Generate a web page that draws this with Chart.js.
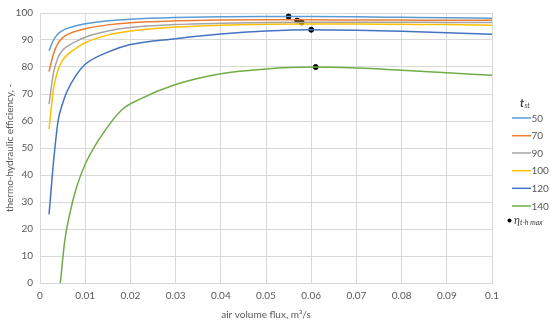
<!DOCTYPE html>
<html>
<head>
<meta charset="utf-8">
<script src="https://cdn.jsdelivr.net/npm/chart.js@4/dist/chart.umd.min.js"></script>
<style>
  html, body { margin: 0; padding: 0; background: #fff; }
  #wrap { width: 550px; height: 321px; }
</style>
</head>
<body>
<div id="wrap"><canvas id="chart" width="550" height="321"></canvas></div>
<script>
// air volume flux, m3/s
var flux = [0.002, 0.003, 0.004, 0.005, 0.006, 0.008, 0.01, 0.015, 0.02, 0.03, 0.04, 0.05, 0.06, 0.07, 0.08, 0.09, 0.1];
var eff50  = [86, 90, 92.3, 93.5, 94.3, 95.3, 96, 97.1, 97.7, 98.3, 98.6, 98.7, 98.7, 98.6, 98.4, 98.2, 98.1];
var eff70  = [78.3, 85, 88.8, 90.8, 92, 93.3, 94.2, 95.6, 96.4, 97.1, 97.4, 97.5, 97.5, 97.4, 97.4, 97.3, 97.3];
var eff90  = [66.3, 78, 83.5, 86.2, 87.6, 89.5, 91, 93.3, 94.6, 95.7, 96.2, 96.5, 96.6, 96.6, 96.6, 96.5, 96.5];
var eff100 = [57, 72, 79, 82.5, 84.5, 87, 89, 91.8, 93.3, 94.8, 95.5, 95.8, 95.9, 95.9, 95.8, 95.7, 95.5];
var eff120 = [25.4, 45, 60, 66.5, 71, 77, 81, 85.5, 88.3, 90.5, 92.2, 93.3, 93.8, 93.6, 93.2, 92.7, 92.1];
// t_st = 140 starts later
var flux140 = [0.0045, 0.0055, 0.0065, 0.008, 0.01, 0.013, 0.018, 0.022, 0.03, 0.04, 0.05, 0.06, 0.07, 0.08, 0.09, 0.1];
var eff140  = [0, 16, 25, 35, 44, 53, 64, 68, 73.5, 77.5, 79.3, 80, 79.6, 78.8, 77.9, 76.9];
// maxima
var maxFlux = [0.055, 0.0569, 0.0579, 0.06, 0.061];
var maxEff  = [98.7, 97.2, 96.5, 93.8, 80];

var tempLabels = ['50', '70', '90', '100', '120', '140'];
var colors = ['#5B9BD5', '#ED7D31', '#A5A5A5', '#FFC000', '#4472C4', '#70AD47'];
var FONT = 'Lato';

function pts(xs, ys) {
    return xs.map(function(x, i) { return {x: x, y: ys[i]}; });
}

var series = [pts(flux, eff50), pts(flux, eff70), pts(flux, eff90), pts(flux, eff100), pts(flux, eff120), pts(flux140, eff140)];

var datasets = series.map(function(d, i) {
    return {
        label: tempLabels[i],
        data: d,
        borderColor: colors[i],
        backgroundColor: colors[i],
        borderWidth: 1.5,
        pointRadius: 0,
        cubicInterpolationMode: 'monotone',
        fill: false
    };
});
datasets.push({
    label: 'max',
    data: pts(maxFlux, maxEff),
    showLine: false,
    pointRadius: 2.5,
    pointBackgroundColor: '#000',
    pointBorderColor: '#000',
    borderColor: '#000',
    backgroundColor: '#000'
});

// legend on the right, drawn by hand for the sub-scripts
var sideLegend = {
    id: 'sideLegend',
    afterDraw: function(chart) {
        var ctx = chart.ctx;
        ctx.save();
        ctx.fillStyle = '#404040';
        ctx.textBaseline = 'middle';
        ctx.font = 'italic bold 11px ' + FONT;
        ctx.fillText('t', 520, 103);
        ctx.font = 'italic 7px ' + FONT;
        ctx.fillText('st', 524.5, 106);

        var rows = [118, 135.7, 153, 170.7, 188.3, 206];
        ctx.fillStyle = '#595959';
        ctx.font = '10px ' + FONT;
        for (var i = 0; i < tempLabels.length; i++) {
            ctx.strokeStyle = colors[i];
            ctx.lineWidth = 1.5;
            ctx.beginPath();
            ctx.moveTo(512, rows[i]);
            ctx.lineTo(531, rows[i]);
            ctx.stroke();
            ctx.fillText(tempLabels[i], 531.5, rows[i] + 0.5);
        }
        ctx.fillStyle = '#000';
        ctx.beginPath();
        ctx.arc(509.5, 220.5, 2, 0, Math.PI * 2);
        ctx.fill();
        ctx.fillStyle = '#404040';
        ctx.font = 'italic 11px ' + FONT;
        ctx.fillText('\u03B7', 514, 220);
        ctx.font = 'italic 7px ' + FONT;
        ctx.fillText('t-h max', 520, 222.5);
        ctx.restore();
    }
};

new Chart(document.getElementById('chart').getContext('2d'), {
    type: 'line',
    data: { datasets: datasets },
    options: {
        responsive: false,
        animation: false,
        layout: { padding: { left: 4, top: 7, right: 58, bottom: 0 } },
        plugins: {
            legend: { display: false },
            tooltip: { enabled: false }
        },
        scales: {
            x: {
                type: 'linear',
                min: 0,
                max: 0.1,
                afterFit: function(scale) { scale.height = 38; },
                grid: { color: '#D9D9D9', drawTicks: false },
                border: { color: '#D9D9D9' },
                ticks: {
                    stepSize: 0.01,
                    padding: 7,
                    color: '#595959',
                    font: { family: FONT, size: 10 },
                    maxRotation: 0,
                    callback: function(v) { return String(Number(v.toFixed(2))); }
                },
                title: {
                    display: true,
                    text: 'air volume flux, m\u00B3/s',
                    color: '#595959',
                    font: { family: FONT, size: 10 },
                    padding: { top: 2, bottom: 0 }
                }
            },
            y: {
                min: 0,
                max: 100,
                afterFit: function(scale) { scale.width = 36; },
                grid: { color: '#D9D9D9', drawTicks: false },
                border: { color: '#D9D9D9' },
                ticks: {
                    stepSize: 10,
                    padding: 7,
                    color: '#595959',
                    font: { family: FONT, size: 10 }
                },
                title: {
                    display: true,
                    text: 'thermo-hydraulic efficiency, -',
                    color: '#595959',
                    font: { family: FONT, size: 10 },
                    padding: { top: 0, bottom: 2 }
                }
            }
        }
    },
    plugins: [sideLegend]
});
</script>
</body>
</html>
